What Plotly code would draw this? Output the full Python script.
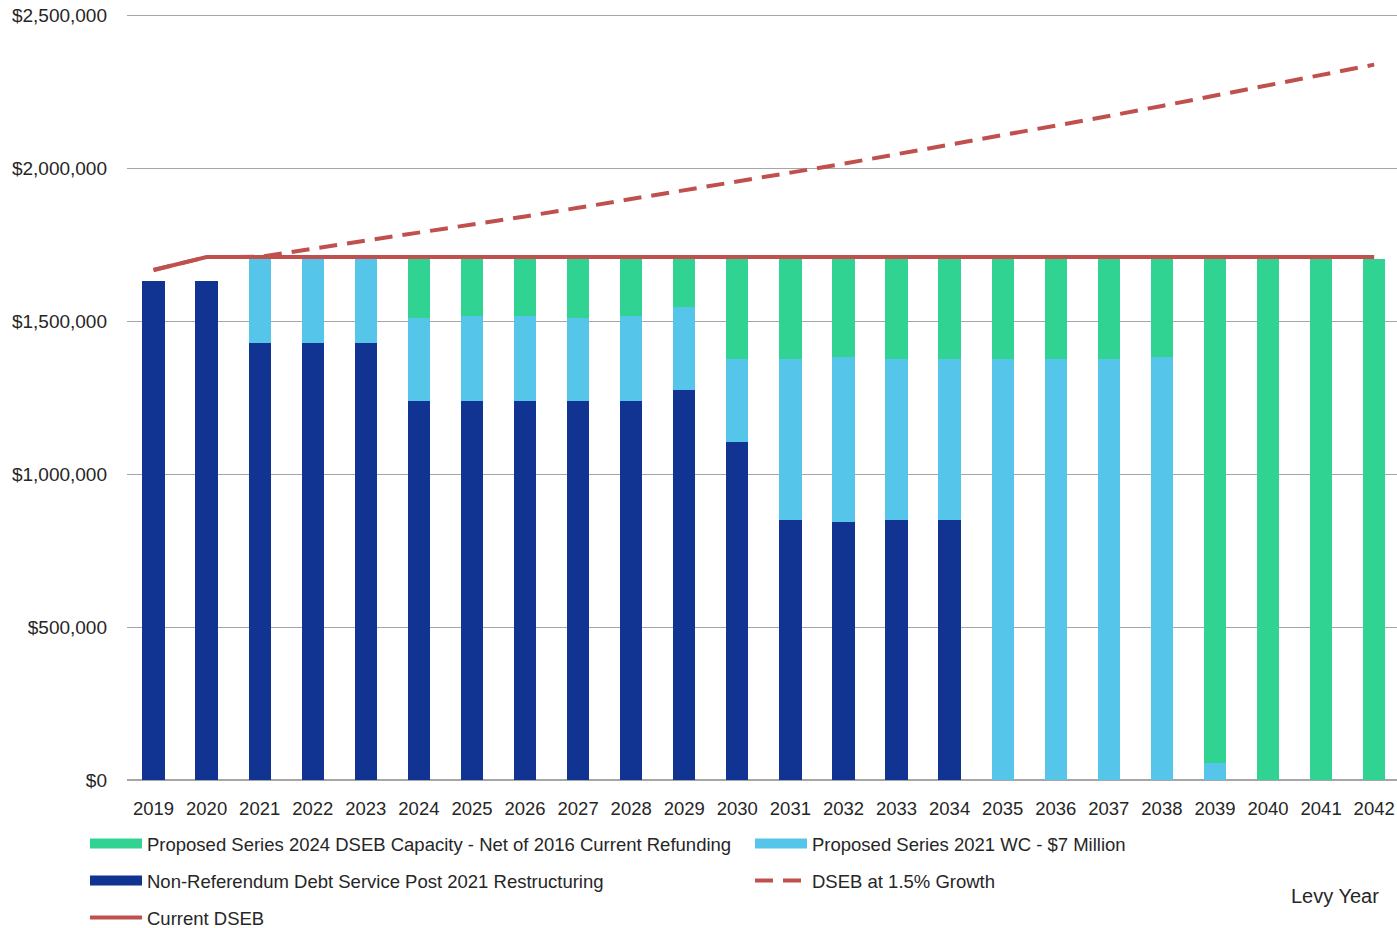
import plotly.graph_objects as go

years = [str(y) for y in range(2019, 2043)]

non_referendum = [1631000, 1631000, 1428000, 1428000, 1428000, 1239000, 1239000, 1239000,
                  1239000, 1239000, 1275000, 1105000, 850000, 843000, 850000, 850000,
                  0, 0, 0, 0, 0, 0, 0, 0]
series_2021_wc = [0, 0, 275000, 275000, 275000, 271000, 277000, 277000,
                  271000, 277000, 271000, 271000, 526000, 539000, 526000, 526000,
                  1376000, 1376000, 1376000, 1382000, 56000, 0, 0, 0]
series_2024_cap = [0, 0, 0, 0, 0, 193000, 187000, 187000,
                   193000, 187000, 157000, 327000, 327000, 321000, 327000, 327000,
                   327000, 327000, 327000, 321000, 1647000, 1703000, 1703000, 1703000]
current_dseb = [1667000, 1709000, 1709000, 1709000, 1709000, 1709000, 1709000, 1709000,
                1709000, 1709000, 1709000, 1709000, 1709000, 1709000, 1709000, 1709000,
                1709000, 1709000, 1709000, 1709000, 1709000, 1709000, 1709000, 1709000]
dseb_growth = [1667000, 1709000, 1710000, 1736000, 1762000, 1788000, 1815000, 1842000,
               1870000, 1898000, 1926000, 1955000, 1985000, 2014000, 2045000, 2075000,
               2106000, 2138000, 2170000, 2203000, 2236000, 2269000, 2303000, 2338000]
y_ticks = [0, 500000, 1000000, 1500000, 2000000, 2500000]
y_tick_labels = ["$0", "$500,000", "$1,000,000", "$1,500,000", "$2,000,000", "$2,500,000"]

names = {
    "cap": "Proposed Series 2024 DSEB Capacity - Net of 2016 Current Refunding",
    "wc": "Proposed Series 2021 WC - $7 Million",
    "nr": "Non-Referendum Debt Service Post 2021 Restructuring",
    "gr": "DSEB at 1.5% Growth",
    "cur": "Current DSEB",
}

DARK = "#113391"
LIGHT = "#56c5ea"
GREEN = "#30d391"
RED = "#c0504d"
FONT = "Liberation Sans"
TXT = "#262626"

W, H = 1397, 928
L, T, B = 127, 14, 148

fig = go.Figure()
fig.add_trace(go.Bar(x=years, y=non_referendum, marker=dict(color=DARK, line=dict(width=0)),
                     name=names["nr"], showlegend=False))
fig.add_trace(go.Bar(x=years, y=series_2021_wc, marker=dict(color=LIGHT, line=dict(width=0)),
                     name=names["wc"], showlegend=False))
fig.add_trace(go.Bar(x=years, y=series_2024_cap, marker=dict(color=GREEN, line=dict(width=0)),
                     name=names["cap"], showlegend=False))
fig.add_trace(go.Scatter(x=years, y=dseb_growth, mode="lines", name=names["gr"],
                         line=dict(color=RED, width=4, dash="18px,10px"), showlegend=False))
fig.add_trace(go.Scatter(x=years, y=current_dseb, mode="lines", name=names["cur"],
                         line=dict(color=RED, width=4), showlegend=False))


def leg(name, color, legend, width=11, dash=None):
    fig.add_trace(go.Scatter(x=[None], y=[None], mode="lines", name=name,
                             line=dict(color=color, width=width, dash=dash),
                             legend=legend, showlegend=True, hoverinfo="skip"))


leg(names["cap"], GREEN, "legend")
leg(names["wc"], LIGHT, "legend2")
leg(names["nr"], DARK, "legend3")
leg(names["gr"], RED, "legend4", width=4, dash="18px,10px")
leg(names["cur"], RED, "legend5", width=4)


def legend_at(xpix, ypix):
    return dict(orientation="v", xref="container", yref="container",
                x=xpix / W, y=1 - ypix / H, xanchor="left", yanchor="middle",
                itemwidth=52, font=dict(family=FONT, size=18.5, color=TXT),
                bgcolor="rgba(0,0,0,0)", borderwidth=0, itemclick=False)


col1, col2 = 85, 750
rows = [844, 881, 918]

fig.update_layout(
    width=W, height=H,
    margin=dict(l=L, r=0, t=T, b=B, autoexpand=False),
    barmode="stack", bargap=0.58,
    plot_bgcolor="white", paper_bgcolor="white",
    font=dict(family=FONT, size=18, color=TXT),
    legend=legend_at(col1, rows[0]),
    legend2=legend_at(col2, rows[0]),
    legend3=legend_at(col1, rows[1]),
    legend4=legend_at(col2, rows[1]),
    legend5=legend_at(col1, rows[2]),
    xaxis=dict(type="category", range=[-0.5, 23.43], showgrid=False,
               showline=False, ticks="", tickfont=dict(family=FONT, size=18.5, color=TXT),
               ticklabelstandoff=15, ticklabeloverflow="allow"),
    yaxis=dict(range=[0, 2503500], tickmode="array", tickvals=y_ticks,
               ticktext=y_tick_labels,
               showgrid=True, gridcolor="#a6a6a6", gridwidth=1.3,
               zeroline=True, zerolinecolor="#a6a6a6", zerolinewidth=2,
               showline=False, ticks="", tickfont=dict(family=FONT, size=19, color=TXT),
               ticklabelstandoff=19, ticklabeloverflow="allow"),
    annotations=[dict(text="Levy Year", xref="paper", yref="paper",
                      x=(1335 - L) / (W - L), y=-(896 - (H - B)) / (H - B - T),
                      xanchor="center", yanchor="middle", showarrow=False,
                      font=dict(family=FONT, size=20, color=TXT))],
)

fig.write_html("out.html", config={"displayModeBar": False},
               post_script="document.body.style.margin='0';"
                           "document.documentElement.style.overflow='hidden';"
                           "document.body.style.overflow='hidden';")
